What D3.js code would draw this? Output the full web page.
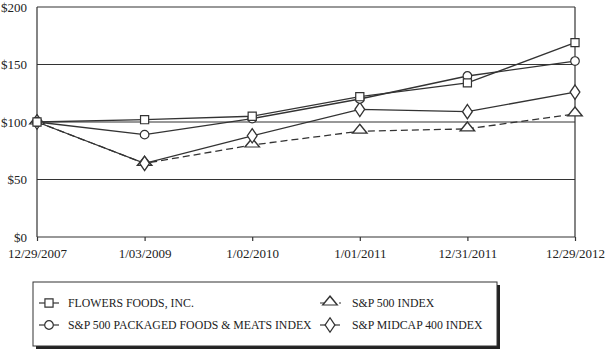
<!DOCTYPE html>
<html>
<head>
<meta charset="utf-8">
<script src="https://cdn.jsdelivr.net/npm/d3@7"></script>
<style>
  body { margin: 0; background: #fff; }
  svg { display: block; font-family: 'Liberation Serif', 'Times New Roman', serif; }
</style>
</head>
<body>
<div id="viz"></div>
<script>
const dates = ['12/29/2007', '1/03/2009', '1/02/2010', '1/01/2011', '12/31/2011', '12/29/2012']
const yTicks = [0, 50, 100, 150, 200]

const flowers = [100, 102, 105, 122, 134, 169]
const packaged = [100, 89, 103, 120, 140, 153]
const sp500 = [100, 64, 80, 92, 94, 107]
const midcap = [100, 64, 88, 111, 109, 126]

const seriesNames = [
    'FLOWERS FOODS, INC.',
    'S&P 500 PACKAGED FOODS & MEATS INDEX',
    'S&P 500 INDEX',
    'S&P MIDCAP 400 INDEX'
]

const w = 605, h = 350
const margin = { top: 7, right: 30, bottom: 113, left: 37 }
const innerWidth = w - margin.left - margin.right
const innerHeight = h - margin.top - margin.bottom
const ink = '#333'

const svg = d3.select('#viz')
    .append('svg')
    .attr('width', w)
    .attr('height', h)

const g = svg.append('g')
    .attr('transform', `translate(${margin.left}, ${margin.top})`)

const x = d3.scalePoint()
    .domain(dates)
    .range([0, innerWidth])

const y = d3.scaleLinear()
    .domain([0, 200])
    .range([innerHeight, 0])

// gridlines
g.selectAll('.grid')
    .data(yTicks)
    .enter()
    .append('line')
    .attr('x1', 0)
    .attr('x2', innerWidth)
    .attr('y1', d => y(d))
    .attr('y2', d => y(d))
    .attr('stroke', ink)
    .attr('stroke-width', 1.2)

// frame sides
g.append('line')
    .attr('x1', 0).attr('x2', 0)
    .attr('y1', 0).attr('y2', innerHeight)
    .attr('stroke', ink).attr('stroke-width', 1.2)
g.append('line')
    .attr('x1', innerWidth).attr('x2', innerWidth)
    .attr('y1', 0).attr('y2', innerHeight)
    .attr('stroke', ink).attr('stroke-width', 1.2)

const yAxisG = g.append('g')
    .call(d3.axisLeft(y).tickValues(yTicks).tickSize(0).tickPadding(10).tickFormat(d => '$' + d))
yAxisG.select('.domain').remove()
yAxisG.selectAll('text')
    .attr('font-size', 13)
    .attr('fill', '#222')
    .attr('font-family', 'Liberation Serif')

const xAxisG = g.append('g')
    .attr('transform', `translate(0, ${innerHeight})`)
    .call(d3.axisBottom(x).tickSize(4).tickPadding(8))
xAxisG.select('.domain').remove()
xAxisG.selectAll('line').attr('stroke', ink).attr('stroke-width', 1.2)
xAxisG.selectAll('text')
    .attr('font-size', 13)
    .attr('fill', '#222')
    .attr('font-family', 'Liberation Serif')

const series = [
    { name: seriesNames[0], values: flowers, marker: 'square', dash: null },
    { name: seriesNames[1], values: packaged, marker: 'circle', dash: null },
    { name: seriesNames[2], values: sp500, marker: 'triangle', dash: '7,4' },
    { name: seriesNames[3], values: midcap, marker: 'diamond', dash: null }
]

const symbolFor = {
    square: d3.symbol().type(d3.symbolSquare).size(66),
    circle: d3.symbol().type(d3.symbolCircle).size(58),
    triangle: d3.symbol().type(d3.symbolTriangle).size(50),
    diamond: d3.symbol().type(d3.symbolDiamond).size(66)
}
const shapeFix = {
    square: '',
    circle: '',
    triangle: 'translate(0,-1) scale(1.35,0.95)',
    diamond: 'scale(1.12,0.95)'
}

const line = d3.line()
    .x((d, i) => x(dates[i]))
    .y(d => y(d))

// draw order: S&P 500 under, others over
const drawOrder = [series[2], series[3], series[1], series[0]]

drawOrder.forEach(s => {
    g.append('path')
        .datum(s.values)
        .attr('d', line)
        .attr('fill', 'none')
        .attr('stroke', ink)
        .attr('stroke-width', 1.3)
        .attr('stroke-dasharray', s.dash)
})

drawOrder.forEach(s => {
    g.selectAll(null)
        .data(s.values)
        .enter()
        .append('path')
        .attr('d', symbolFor[s.marker])
        .attr('transform', (d, i) => `translate(${x(dates[i])}, ${y(d)}) ${shapeFix[s.marker]}`)
        .attr('fill', '#fff')
        .attr('stroke', ink)
        .attr('stroke-width', 1.2)
})

// legend
const lg = svg.append('g').attr('transform', 'translate(33, 282)')
const lw = 464, lh = 64
lg.append('rect')
    .attr('x', 3).attr('y', 3)
    .attr('width', lw).attr('height', lh)
    .attr('fill', '#222')
lg.append('rect')
    .attr('x', 0).attr('y', 0)
    .attr('width', lw).attr('height', lh)
    .attr('fill', '#fff')
    .attr('stroke', ink)
    .attr('stroke-width', 1)

const legendPos = [
    { x: 16, y: 21, tx: 19 },
    { x: 16, y: 43, tx: 19 },
    { x: 297, y: 21, tx: 22 },
    { x: 297, y: 43, tx: 22 }
]

series.forEach((s, i) => {
    const p = legendPos[i]
    const item = lg.append('g').attr('transform', `translate(${p.x}, ${p.y})`)
    item.append('line')
        .attr('x1', -10).attr('x2', s.dash ? 12 : 10)
        .attr('y1', 0).attr('y2', 0)
        .attr('stroke', ink)
        .attr('stroke-width', 1.2)
        .attr('stroke-dasharray', s.dash ? '8,11,2,20' : null)
    item.append('path')
        .attr('d', symbolFor[s.marker])
        .attr('transform', shapeFix[s.marker])
        .attr('fill', '#fff')
        .attr('stroke', ink)
        .attr('stroke-width', 1.2)
    item.append('text')
        .attr('x', p.tx)
        .attr('y', 4.2)
        .attr('font-size', 11.8)
        .attr('fill', '#222')
        .text(s.name)
})
</script>
</body>
</html>
